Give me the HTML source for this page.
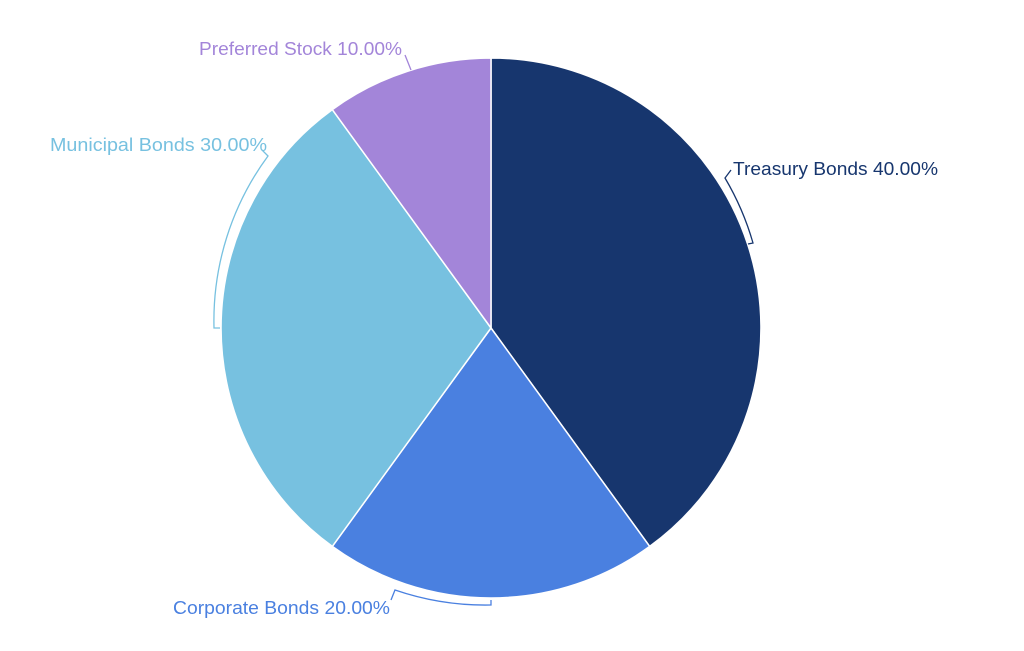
<!DOCTYPE html>
<html><head><meta charset="utf-8"><style>
body{margin:0;background:#fff;}
svg text{font-family:"Liberation Sans",sans-serif;font-size:18px;}
</style></head><body>
<svg width="1024" height="646" viewBox="0 0 1024 646" xmlns="http://www.w3.org/2000/svg">
<g stroke="#fff" stroke-width="1.5">
<path d="M491,328 L491,58 A270,270 0 0 1 649.7,546.4 Z" fill="#17366e"/>
<path d="M491,328 L649.7,546.4 A270,270 0 0 1 332.3,546.4 Z" fill="#4a80e0"/>
<path d="M491,328 L332.3,546.4 A270,270 0 0 1 332.3,109.6 Z" fill="#77c1e0"/>
<path d="M491,328 L332.3,109.6 A270,270 0 0 1 491,58 Z" fill="#a385d9"/>
</g>
<g fill="none" stroke-width="1.3">
<path d="M748,244 L753,243 A278,278 0 0 0 725,178 L731,170" stroke="#17366e"/>
<path d="M491,600 L491,605 A278,278 0 0 1 395,590 L391,600" stroke="#4a80e0"/>
<path d="M220,328 L214,328 A278,278 0 0 1 268,156 L262,150" stroke="#77c1e0"/>
<path d="M411,70 L405,55" stroke="#a385d9"/>
</g>
<text x="733" y="175" fill="#17366e" textLength="205" lengthAdjust="spacingAndGlyphs">Treasury Bonds 40.00%</text>
<text x="173" y="614" fill="#4a80e0" textLength="217" lengthAdjust="spacingAndGlyphs">Corporate Bonds 20.00%</text>
<text x="50" y="151" fill="#77c1e0" textLength="217" lengthAdjust="spacingAndGlyphs">Municipal Bonds 30.00%</text>
<text x="199" y="55" fill="#a385d9" textLength="203" lengthAdjust="spacingAndGlyphs">Preferred Stock 10.00%</text>
</svg>
</body></html>
